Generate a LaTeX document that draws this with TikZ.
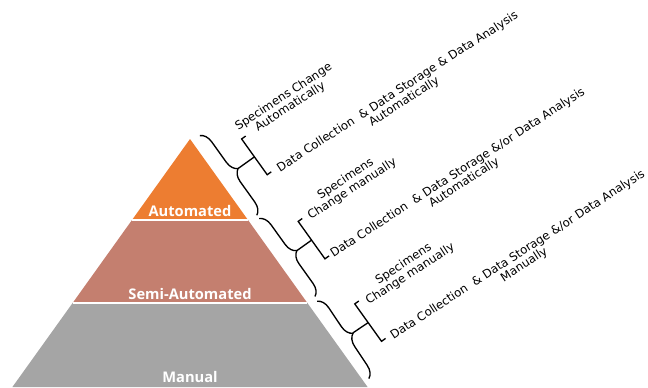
\documentclass[tikz,border=0pt]{standalone}
\usepackage{fontspec}
\usetikzlibrary{decorations.pathreplacing}
\newfontfamily\sidefont{DejaVu Sans}
\newfontfamily\labfont{Open Sans}
\definecolor{autoC}{HTML}{ED7D31}
\definecolor{semiC}{HTML}{C47F6F}
\definecolor{manC}{HTML}{A5A5A5}
\definecolor{inkC}{HTML}{000000}
\begin{document}
\begin{tikzpicture}[x=0.75pt,y=-0.75pt,
  lab/.style={font=\labfont\bfseries\fontsize{11}{12}\selectfont, text=white, inner sep=0pt},
  side/.style={font=\sidefont\fontsize{8.8}{9}\selectfont, text=inkC, align=center, rotate=33, inner sep=0pt},
  curly/.style={draw=inkC, decorate, decoration={brace, amplitude=9pt}, line width=1pt},
  bracketln/.style={draw=inkC, line width=1pt},
  sep/.style={draw=white, line width=1pt}]
\useasboundingbox (0,0) rectangle (648,387);
\clip (0,0) rectangle (648,387);
% pyramid
\fill[autoC] (190,139) -- (248,220) -- (132,220) -- cycle;
\fill[semiC] (132,220) -- (248,220) -- (307.4,303) -- (72.6,303) -- cycle;
\fill[manC] (72.6,303) -- (307.4,303) -- (367.6,387) -- (12.4,387) -- cycle;
\draw[sep] (132,220) -- (248,220);
\draw[sep] (72.6,303) -- (307.4,303);
\node[lab] (autoL) at (190,211) {Automated};
\node[lab] (semiL) at (190,294) {Semi-Automated};
\node[lab] (manL) at (190,377) {Manual};
% braces and brackets in a frame along the right edge
\begin{scope}[shift={(190,139)}, x={(0.6098pt,0.4365pt)}, y={(0.4365pt,-0.6098pt)}]
  \coordinate (b1s) at (10,3);   \coordinate (b1e) at (10,101);
  \coordinate (b2s) at (10,105); \coordinate (b2e) at (10,201);
  \coordinate (b3s) at (9,206);  \coordinate (b3e) at (6,299);
  \coordinate (t1) at (22,52);   \coordinate (t2) at (22,153);  \coordinate (t3) at (19.5,252.5);
  \coordinate (k1s) at (42,30);  \coordinate (k1e) at (42,74);  \coordinate (m1) at (42,52);
  \coordinate (k2s) at (40,130); \coordinate (k2e) at (40,176); \coordinate (m2) at (40,153);
  \coordinate (k3s) at (38,230); \coordinate (k3e) at (38,276); \coordinate (m3) at (38,253);
  \draw[curly] (b1s) -- (b1e);
  \draw[curly] (b2s) -- (b2e);
  \draw[curly] (b3s) -- (b3e);
  \draw[bracketln] ([shift={(5,0)}]k1s) -- (k1s) -- (k1e) -- ([shift={(5,0)}]k1e);
  \draw[bracketln] ([shift={(5,0)}]k2s) -- (k2s) -- (k2e) -- ([shift={(5,0)}]k2e);
  \draw[bracketln] ([shift={(5,0)}]k3s) -- (k3s) -- (k3e) -- ([shift={(5,0)}]k3e);
  \draw[bracketln] (t1) -- (m1);
  \draw[bracketln] (t2) -- (m2);
  \draw[bracketln] (t3) -- (m3);
\end{scope}
% texts
\node[side] (s1) at (287,102) {Specimens Change\\Automatically};
\node[side] (d1) at (401,97) {Data Collection \ \& Data Storage \& Data Analysis\\Automatically};
\node[side] (s2) at (349,184) {Specimens\\Change manually};
\node[side] (d2) at (461,178) {Data Collection \ \& Data Storage \&/or Data Analysis\\Automatically};
\node[side] (s3) at (407,269) {Specimens\\Change manually};
\node[side] (d3) at (521,260) {Data Collection \ \& Data Storage \&/or Data Analysis\\Manually};
\end{tikzpicture}
\end{document}
